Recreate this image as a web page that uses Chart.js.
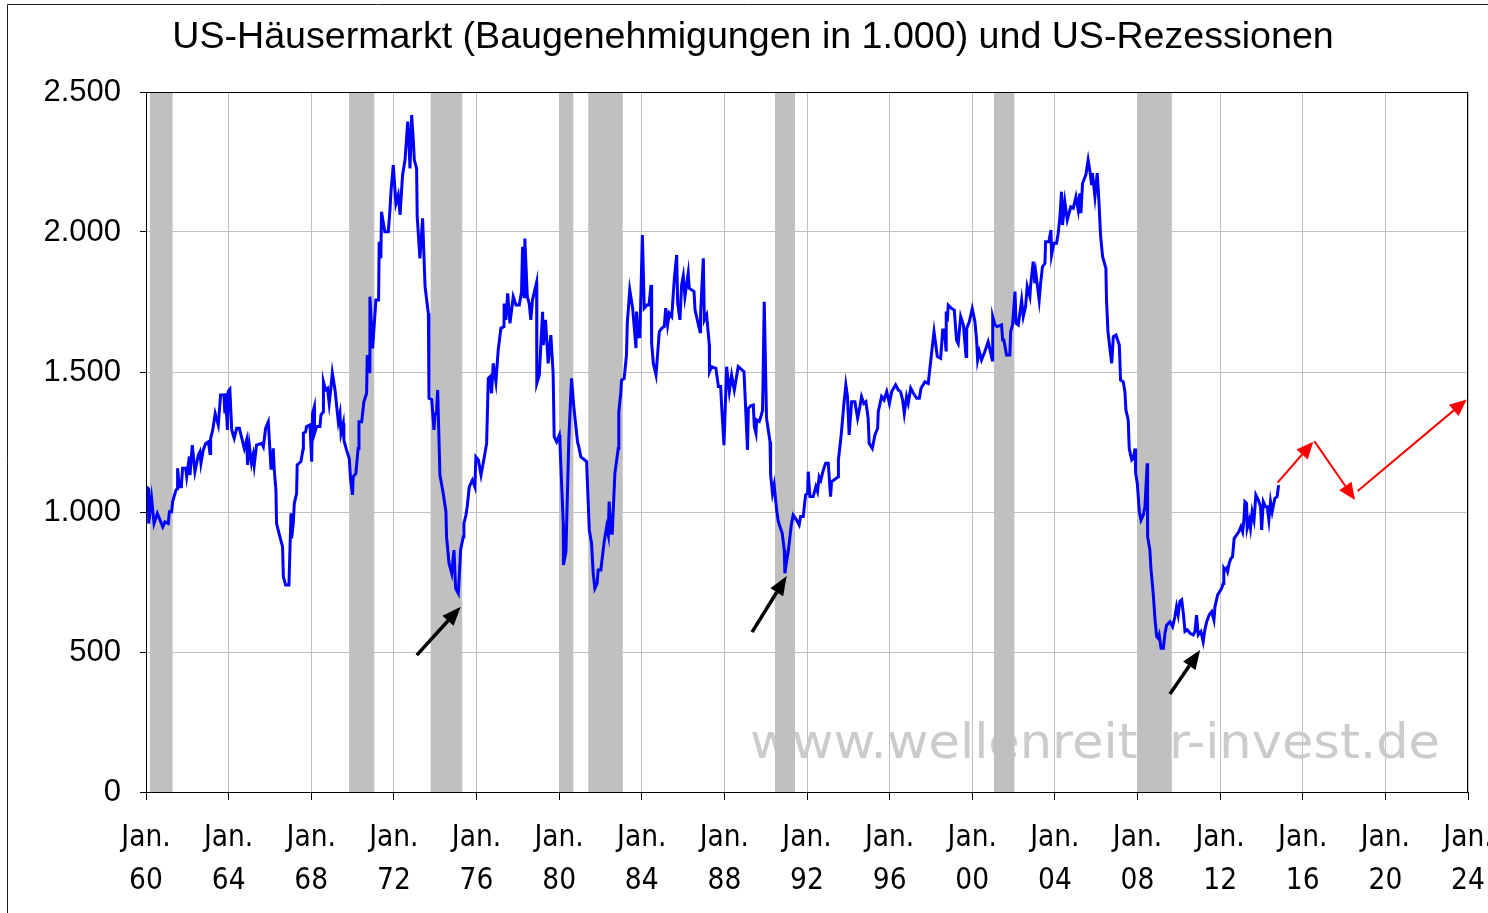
<!DOCTYPE html>
<html>
<head>
<meta charset="utf-8">
<script src="https://cdn.jsdelivr.net/npm/chart.js@4"></script>
<style>
  html, body { margin: 0; padding: 0; background: #fff; }
</style>
</head>
<body>
<canvas id="myChart" width="1488" height="913"></canvas>
<script>
const title = 'US-Häusermarkt (Baugenehmigungen in 1.000) und US-Rezessionen';
const watermark = 'www.wellenreiter-invest.de';

const yearLabels = ['60', '64', '68', '72', '76', '80', '84', '88', '92', '96', '00', '04', '08', '12', '16', '20', '24'];
const yTickLabels = ['0', '500', '1.000', '1.500', '2.000', '2.500'];

// US recessions (start, end) in decimal years
const recessions = [
  [1960.19, 1961.29], [1969.83, 1971.05], [1973.78, 1975.31], [1980.01, 1980.69],
  [1981.41, 1983.08], [1990.45, 1991.42], [2001.05, 2002.04], [2007.99, 2009.66]
];

// building permits, thousands
const dates = [
  1960.00, 1960.11, 1960.13, 1960.27, 1960.39, 1960.55, 1960.68, 1960.81, 1960.92, 1961.08,
  1961.13, 1961.24, 1961.29, 1961.45, 1961.52, 1961.53, 1961.61, 1961.71, 1961.77, 1961.92,
  1961.97, 1962.10, 1962.13, 1962.24, 1962.37, 1962.53, 1962.61, 1962.66, 1962.77, 1962.89,
  1963.02, 1963.10, 1963.13, 1963.23, 1963.35, 1963.50, 1963.61, 1963.77, 1963.82, 1963.85,
  1963.94, 1963.98, 1964.06, 1964.15, 1964.27, 1964.39, 1964.52, 1964.66, 1964.76, 1964.87,
  1964.92, 1965.00, 1965.11, 1965.19, 1965.24, 1965.35, 1965.60, 1965.68, 1965.79, 1965.92,
  1966.05, 1966.11, 1966.16, 1966.21, 1966.29, 1966.32, 1966.48, 1966.61, 1966.65, 1966.76,
  1966.92, 1967.02, 1967.05, 1967.13, 1967.18, 1967.29, 1967.32, 1967.50, 1967.61, 1967.62,
  1967.73, 1967.77, 1967.94, 1968.02, 1968.06, 1968.15, 1968.16, 1968.26, 1968.42, 1968.47,
  1968.58, 1968.59, 1968.69, 1968.79, 1968.87, 1968.95, 1969.02, 1969.15, 1969.31, 1969.39,
  1969.44, 1969.55, 1969.58, 1969.71, 1969.84, 1969.90, 1970.00, 1970.03, 1970.16, 1970.27,
  1970.31, 1970.44, 1970.55, 1970.68, 1970.71, 1970.81, 1970.84, 1970.97, 1971.13, 1971.26,
  1971.29, 1971.37, 1971.40, 1971.56, 1971.73, 1971.81, 1971.86, 1971.97, 1972.10, 1972.21,
  1972.30, 1972.42, 1972.54, 1972.67, 1972.73, 1972.78, 1972.86, 1972.94, 1972.99, 1973.10,
  1973.13, 1973.26, 1973.39, 1973.51, 1973.67, 1973.70, 1973.83, 1973.94, 1973.99, 1974.07,
  1974.12, 1974.23, 1974.39, 1974.52, 1974.55, 1974.67, 1974.80, 1974.91, 1974.99, 1975.12,
  1975.23, 1975.36, 1975.39, 1975.49, 1975.55, 1975.65, 1975.80, 1975.92, 1975.97, 1976.09,
  1976.22, 1976.38, 1976.49, 1976.57, 1976.65, 1976.73, 1976.81, 1976.94, 1977.05, 1977.18,
  1977.33, 1977.34, 1977.42, 1977.51, 1977.62, 1977.78, 1977.91, 1978.07, 1978.18, 1978.23,
  1978.30, 1978.34, 1978.46, 1978.55, 1978.63, 1978.71, 1978.91, 1978.92, 1979.04, 1979.20,
  1979.23, 1979.34, 1979.47, 1979.60, 1979.71, 1979.76, 1979.88, 1980.01, 1980.04, 1980.20,
  1980.21, 1980.33, 1980.47, 1980.60, 1980.71, 1980.89, 1980.97, 1981.05, 1981.33, 1981.46,
  1981.57, 1981.65, 1981.73, 1981.84, 1981.89, 1982.02, 1982.17, 1982.30, 1982.38, 1982.42,
  1982.51, 1982.57, 1982.70, 1982.86, 1982.89, 1982.99, 1983.02, 1983.15, 1983.26, 1983.30,
  1983.42, 1983.56, 1983.72, 1983.75, 1983.83, 1983.91, 1984.03, 1984.12, 1984.24, 1984.35,
  1984.45, 1984.48, 1984.56, 1984.69, 1984.85, 1984.96, 1985.09, 1985.16, 1985.25, 1985.33,
  1985.45, 1985.58, 1985.69, 1985.74, 1985.85, 1985.93, 1986.01, 1986.09, 1986.25, 1986.30,
  1986.53, 1986.58, 1986.82, 1986.85, 1986.98, 1987.03, 1987.14, 1987.27, 1987.28, 1987.38,
  1987.59, 1987.71, 1987.82, 1987.87, 1987.98, 1988.11, 1988.24, 1988.35, 1988.48, 1988.67,
  1988.95, 1989.12, 1989.16, 1989.27, 1989.40, 1989.45, 1989.53, 1989.56, 1989.69, 1989.77,
  1989.85, 1989.93, 1990.04, 1990.21, 1990.24, 1990.33, 1990.41, 1990.53, 1990.61, 1990.80,
  1990.90, 1990.93, 1991.01, 1991.09, 1991.25, 1991.33, 1991.49, 1991.62, 1991.69, 1991.82,
  1991.93, 1992.03, 1992.06, 1992.14, 1992.30, 1992.43, 1992.51, 1992.59, 1992.67, 1992.79,
  1992.90, 1993.03, 1993.14, 1993.19, 1993.51, 1993.52, 1993.62, 1993.67, 1993.78, 1993.88,
  1993.96, 1994.04, 1994.16, 1994.32, 1994.45, 1994.56, 1994.64, 1994.75, 1994.85, 1994.96,
  1995.01, 1995.16, 1995.29, 1995.42, 1995.45, 1995.61, 1995.73, 1995.86, 1995.99, 1996.10,
  1996.29, 1996.42, 1996.53, 1996.63, 1996.71, 1996.82, 1996.90, 1997.02, 1997.15, 1997.31,
  1997.44, 1997.52, 1997.71, 1997.87, 1998.03, 1998.15, 1998.31, 1998.47, 1998.57, 1998.65,
  1998.73, 1998.74, 1998.79, 1998.84, 1999.00, 1999.13, 1999.24, 1999.32, 1999.44, 1999.57,
  1999.70, 1999.73, 1999.86, 2000.00, 2000.13, 2000.21, 2000.26, 2000.34, 2000.45, 2000.61,
  2000.77, 2000.86, 2000.97, 2000.99, 2001.10, 2001.20, 2001.42, 2001.47, 2001.53, 2001.66,
  2001.82, 2001.86, 2001.95, 2002.07, 2002.12, 2002.23, 2002.39, 2002.47, 2002.58, 2002.66,
  2002.79, 2002.82, 2002.95, 2003.03, 2003.08, 2003.24, 2003.31, 2003.40, 2003.52, 2003.55,
  2003.71, 2003.81, 2003.84, 2003.95, 2004.08, 2004.16, 2004.24, 2004.32, 2004.37, 2004.48,
  2004.60, 2004.77, 2004.89, 2005.02, 2005.13, 2005.21, 2005.26, 2005.34, 2005.50, 2005.61,
  2005.70, 2005.78, 2005.82, 2005.94, 2006.05, 2006.13, 2006.21, 2006.31, 2006.47, 2006.50,
  2006.57, 2006.75, 2006.83, 2006.96, 2007.12, 2007.18, 2007.31, 2007.39, 2007.44, 2007.55,
  2007.60, 2007.72, 2007.80, 2007.88, 2007.91, 2007.99, 2008.09, 2008.17, 2008.28, 2008.36,
  2008.47, 2008.49, 2008.60, 2008.65, 2008.76, 2008.85, 2008.93, 2009.00, 2009.05, 2009.14,
  2009.25, 2009.33, 2009.41, 2009.57, 2009.70, 2009.81, 2009.89, 2009.97, 2010.05, 2010.14,
  2010.22, 2010.30, 2010.41, 2010.54, 2010.70, 2010.78, 2010.86, 2010.94, 2011.07, 2011.18,
  2011.26, 2011.35, 2011.47, 2011.59, 2011.70, 2011.75, 2011.88, 2012.07, 2012.15, 2012.18,
  2012.23, 2012.30, 2012.36, 2012.44, 2012.52, 2012.60, 2012.68, 2012.80, 2012.91, 2013.01,
  2013.09, 2013.15, 2013.20, 2013.28, 2013.31, 2013.41, 2013.47, 2013.55, 2013.64, 2013.73,
  2013.85, 2013.96, 2014.01, 2014.09, 2014.20, 2014.28, 2014.36, 2014.44, 2014.52, 2014.65,
  2014.76, 2014.83
];
const permits = [
  1090, 1084, 959, 1049, 959, 995, 971, 947, 965, 959,
  1001, 1001, 1037, 1078, 1084, 1156, 1090, 1090, 1156, 1156,
  1126, 1198, 1132, 1239, 1144, 1203, 1215, 1174, 1221, 1245,
  1251, 1209, 1263, 1293, 1352, 1311, 1418, 1418, 1352, 1424,
  1293, 1430, 1438, 1293, 1263, 1299, 1299, 1257, 1227, 1257,
  1168, 1239, 1174, 1203, 1168, 1239, 1245, 1233, 1299, 1322,
  1156, 1156, 1227, 1150, 1078, 959, 912, 876, 769, 739,
  739, 995, 906, 959, 1031, 1066, 1168, 1180, 1227, 1281,
  1287, 1305, 1311, 1180, 1352, 1376, 1281, 1305, 1305, 1346,
  1358, 1465, 1436, 1442, 1388, 1442, 1497, 1436, 1322, 1352,
  1281, 1317, 1257, 1221, 1191, 1120, 1061, 1126, 1138, 1227,
  1322, 1322, 1394, 1424, 1561, 1501, 1769, 1584, 1757, 1757,
  1965, 1906, 2072, 2001, 2001, 2078, 2144, 2239, 2102, 2132,
  2061, 2203, 2257, 2394, 2322, 2227, 2418, 2328, 2257, 2227,
  2055, 1906, 2049, 1805, 1709, 1406, 1402, 1293, 1346, 1358,
  1436, 1132, 1066, 1001, 912, 817, 781, 864, 727, 709,
  864, 912, 959, 989, 1019, 1090, 1114, 1090, 1197, 1186,
  1132, 1197, 1245, 1477, 1483, 1424, 1531, 1465, 1578, 1656,
  1662, 1745, 1686, 1781, 1674, 1769, 1739, 1739, 1787, 1947,
  1769, 1977, 1769, 1745, 1686, 1757, 1820, 1459, 1489, 1715,
  1596, 1686, 1531, 1632, 1495, 1269, 1251, 1275, 1245, 959,
  811, 858, 1263, 1477, 1376, 1251, 1227, 1197, 1180, 936,
  888, 781, 727, 745, 793, 793, 888, 947, 918, 1037,
  924, 924, 1138, 1227, 1358, 1430, 1471, 1477, 1561, 1674,
  1793, 1728, 1585, 1716, 1626, 1626, 1989, 1728, 1739, 1739,
  1811, 1603, 1531, 1489, 1644, 1656, 1662, 1728, 1668, 1710,
  1698, 1835, 1918, 1745, 1686, 1811, 1843, 1769, 1853, 1799,
  1787, 1722, 1644, 1710, 1906, 1686, 1704, 1597, 1501, 1519,
  1513, 1448, 1448, 1376, 1239, 1519, 1430, 1489, 1436, 1519,
  1501, 1222, 1370, 1379, 1382, 1305, 1281, 1329, 1323, 1341,
  1364, 1751, 1335, 1251, 1132, 1067, 1097, 1007, 966, 924,
  864, 781, 823, 858, 960, 989, 972, 954, 984, 984,
  1061, 1067, 1144, 1055, 1055, 1091, 1073, 1126, 1114, 1150,
  1174, 1174, 1055, 1108, 1126, 1186, 1251, 1287, 1382, 1454,
  1412, 1275, 1394, 1394, 1335, 1376, 1412, 1388, 1394, 1335,
  1245, 1227, 1275, 1299, 1358, 1412, 1400, 1430, 1388, 1430,
  1454, 1436, 1430, 1400, 1352, 1412, 1388, 1442, 1424, 1406,
  1406, 1442, 1465, 1459, 1567, 1644, 1555, 1549, 1650, 1650,
  1579, 1716, 1680, 1739, 1727, 1721, 1614, 1602, 1698, 1668,
  1555, 1656, 1680, 1727, 1680, 1614, 1543, 1573, 1543, 1573,
  1608, 1579, 1543, 1698, 1668, 1662, 1668, 1614, 1614, 1561,
  1561, 1644, 1668, 1787, 1674, 1668, 1757, 1698, 1733, 1805,
  1769, 1805, 1894, 1817, 1852, 1757, 1817, 1876, 1888, 1965,
  1965, 2007, 1918, 1960, 1960, 1995, 2049, 2144, 2025, 2108,
  2043, 2090, 2085, 2126, 2079, 2138, 2067, 2174, 2204, 2257,
  2215, 2168, 2210, 2126, 2210, 2114, 1989, 1912, 1870, 1757,
  1644, 1531, 1626, 1632, 1596, 1471, 1465, 1430, 1364, 1329,
  1227, 1186, 1192, 1227, 1138, 1102, 1001, 971, 989, 1019,
  1174, 912, 864, 799, 709, 614, 555, 549, 561, 513,
  513, 567, 596, 608, 590, 626, 662, 632, 680, 686,
  638, 573, 579, 567, 561, 573, 632, 561, 573, 537,
  579, 608, 632, 644, 614, 662, 704, 727, 745, 799,
  793, 799, 787, 817, 834, 840, 906, 918, 930, 948,
  930, 971, 1037, 1031, 942, 971, 942, 1001, 971, 1061,
  1043, 1019, 936, 1037, 1019, 1019, 971, 1037, 1001, 1049,
  1055, 1096
];

// forecast arrows (red) and low-point arrows (black): [fromYear, fromValue, toYear, toValue]
const forecastArrows = [
  [2014.78, 1105, 2016.51, 1251],
  [2016.56, 1253, 2018.53, 1043],
  [2018.66, 1075, 2023.94, 1402]
];
const lowArrows = [
  [1973.11, 489, 1975.24, 662],
  [1989.34, 571, 1991.02, 771],
  [2009.57, 350, 2011.03, 507]
];

function drawArrow(ctx, x0, y0, x1, y1, color, width, headLen, headWidth) {
  const ang = Math.atan2(y1 - y0, x1 - x0);
  const bx = x1 - headLen * Math.cos(ang);
  const by = y1 - headLen * Math.sin(ang);
  ctx.strokeStyle = color;
  ctx.fillStyle = color;
  ctx.lineWidth = width;
  ctx.lineCap = 'butt';
  ctx.beginPath();
  ctx.moveTo(x0, y0);
  ctx.lineTo(bx, by);
  ctx.stroke();
  ctx.beginPath();
  ctx.moveTo(x1, y1);
  ctx.lineTo(bx + headWidth / 2 * Math.sin(ang), by - headWidth / 2 * Math.cos(ang));
  ctx.lineTo(bx - headWidth / 2 * Math.sin(ang), by + headWidth / 2 * Math.cos(ang));
  ctx.closePath();
  ctx.fill();
}

const decorations = {
  id: 'decorations',
  beforeDatasetsDraw(chart) {
    const { ctx, chartArea: area, scales: { x, y } } = chart;
    // watermark
    ctx.save();
    ctx.beginPath();
    ctx.rect(area.left, area.top, area.width, area.height);
    ctx.clip();
    ctx.font = '48px "DejaVu Sans", sans-serif';
    ctx.fillStyle = '#cbcbcb';
    ctx.textBaseline = 'alphabetic';
    const w = ctx.measureText(watermark).width;
    ctx.translate(750, 758);
    ctx.scale(690 / w, 1);
    ctx.fillText(watermark, 0, 0);
    ctx.restore();
    // recession bands
    ctx.save();
    ctx.fillStyle = '#c0c0c0';
    const top = y.getPixelForValue(2500), bottom = y.getPixelForValue(0);
    recessions.forEach(([s, e]) => {
      const x0 = x.getPixelForValue(s), x1 = x.getPixelForValue(e);
      ctx.fillRect(x0, top, x1 - x0, bottom - top);
    });
    ctx.restore();
  },
  afterDatasetsDraw(chart) {
    const { ctx, scales: { x, y } } = chart;
    ctx.save();
    forecastArrows.forEach(a => drawArrow(ctx,
      x.getPixelForValue(a[0]), y.getPixelForValue(a[1]),
      x.getPixelForValue(a[2]), y.getPixelForValue(a[3]), '#ff0000', 2, 17, 15));
    lowArrows.forEach(a => drawArrow(ctx,
      x.getPixelForValue(a[0]), y.getPixelForValue(a[1]),
      x.getPixelForValue(a[2]), y.getPixelForValue(a[3]), '#000000', 3.5, 19, 15));
    ctx.restore();
  },
  afterDraw(chart) {
    const { ctx, chartArea: area } = chart;
    ctx.save();
    ctx.strokeStyle = '#000';
    ctx.lineWidth = 1;
    ctx.strokeRect(Math.round(area.left) + 0.5, Math.round(area.top) + 0.5,
      Math.round(area.width) - 1, Math.round(area.height));
    // outer frame
    ctx.strokeStyle = '#222';
    ctx.beginPath();
    ctx.moveTo(7.5, 913);
    ctx.lineTo(7.5, 4.5);
    ctx.lineTo(1488, 4.5);
    ctx.stroke();
    // title
    ctx.fillStyle = '#000';
    ctx.font = '37.6px "Liberation Sans", Arial, sans-serif';
    ctx.textAlign = 'center';
    ctx.textBaseline = 'alphabetic';
    ctx.fillText(title, 753, 48);
    ctx.restore();
  }
};

const config = {
  type: 'line',
  data: {
    datasets: [{
      label: 'Baugenehmigungen',
      data: dates.map((d, i) => ({ x: d, y: permits[i] })),
      borderColor: '#0000ff',
      borderWidth: 3,
      pointRadius: 0,
      tension: 0,
      fill: false
    }]
  },
  options: {
    responsive: false,
    animation: false,
    layout: { padding: { top: 92, right: 20, left: 0, bottom: 0 } },
    plugins: {
      legend: { display: false },
      title: { display: false },
      tooltip: { enabled: false }
    },
    scales: {
      x: {
        type: 'linear',
        min: 1960,
        max: 2024,
        afterFit: s => { s.height = 121; s.paddingLeft = 0; s.paddingRight = 0; },
        grid: { color: '#c0c0c0', lineWidth: 1, tickColor: '#000', tickLength: 8 },
        border: { color: '#000', width: 1 },
        ticks: {
          stepSize: 4,
          autoSkip: false,
          maxRotation: 0,
          padding: 17,
          color: '#000',
          font: { family: '"Liberation Sans Narrow", "Arial Narrow", "DejaVu Sans Condensed", sans-serif', size: 29.5, lineHeight: 1.46 },
          callback: (v, i) => ['Jan.', yearLabels[i]]
        }
      },
      y: {
        min: 0,
        max: 2500,
        afterFit: s => { s.width = 146; s.paddingTop = 0; s.paddingBottom = 0; },
        grid: { color: '#c0c0c0', lineWidth: 1, tickColor: '#000', tickLength: 6 },
        border: { color: '#000', width: 1 },
        ticks: {
          stepSize: 500,
          padding: 19,
          color: '#000',
          font: { family: '"Liberation Sans", Arial, sans-serif', size: 31 },
          callback: (v, i) => yTickLabels[i]
        }
      }
    }
  },
  plugins: [decorations]
};

var myChart = new Chart(document.getElementById('myChart'), config);
</script>
</body>
</html>
